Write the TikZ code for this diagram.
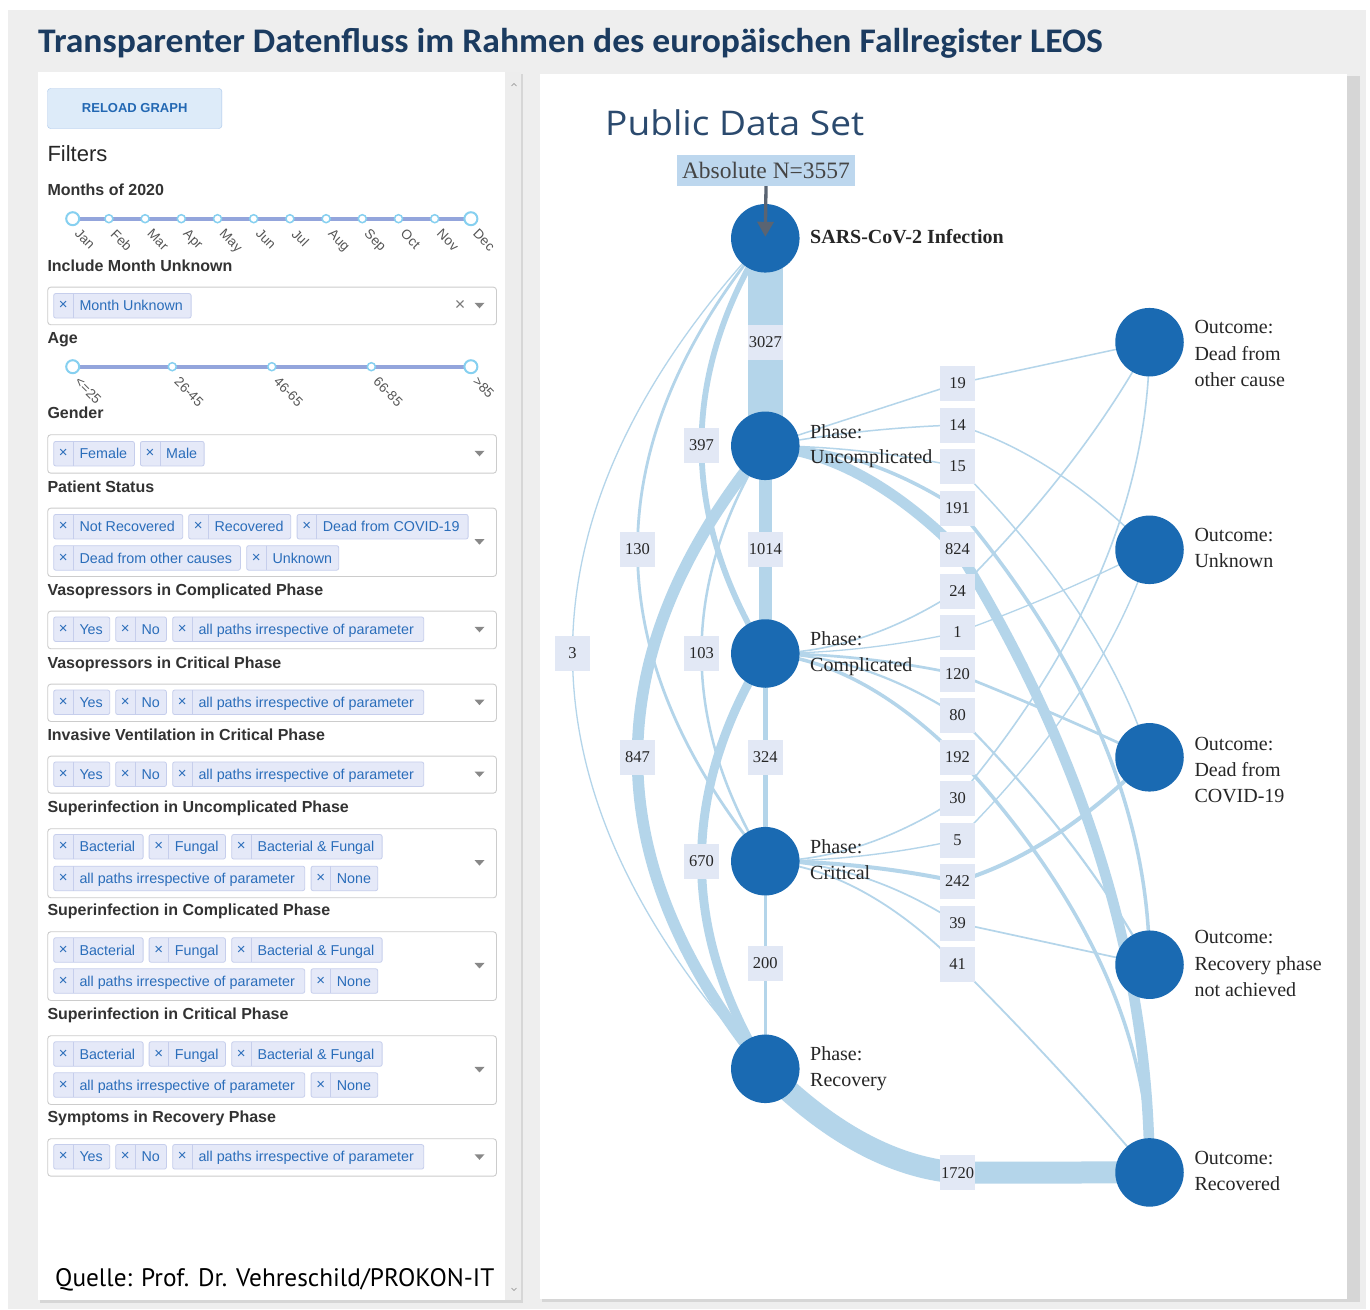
\documentclass[tikz,border=0pt]{standalone}
\usepackage{fontspec}
\setmainfont{Liberation Sans}
\newfontfamily\serifF{Liberation Serif}
\newfontfamily\titleF{Carlito}
\newfontfamily\pubF{Open Sans}
\newfontfamily\quelleF{PT Sans}
\usetikzlibrary{calc,arrows.meta}
\pgfdeclarelayer{bg}
\pgfdeclarelayer{edges}
\pgfsetlayers{bg,edges,main}
\definecolor{cBg}{HTML}{EEEEEE}
\definecolor{cShadow}{HTML}{D6D6D6}
\definecolor{cScroll}{HTML}{EDEDED}
\definecolor{cTitle}{HTML}{1B3B60}
\definecolor{cBtnF}{HTML}{DDEBF9}
\definecolor{cBtnB}{HTML}{A8C6EA}
\definecolor{cBtnT}{HTML}{2368B3}
\definecolor{cLabel}{HTML}{333333}
\definecolor{cBar}{HTML}{93A5DC}
\definecolor{cKnob}{HTML}{86D0F0}
\definecolor{cMonth}{HTML}{555555}
\definecolor{cSelB}{HTML}{CCCCCC}
\definecolor{cTagF}{HTML}{E5E9F8}
\definecolor{cTagB}{HTML}{C6CEEC}
\definecolor{cTagT}{HTML}{2A6DBA}
\definecolor{cDD}{HTML}{888888}
\definecolor{cNode}{HTML}{1A6AB2}
\definecolor{cEdge}{HTML}{B4D5EA}
\definecolor{cELab}{HTML}{E2E8F5}
\definecolor{cNText}{HTML}{262626}
\definecolor{cAbs}{HTML}{BDD7EE}
\definecolor{cAbsT}{HTML}{454545}
\definecolor{cArrow}{HTML}{5A6472}
\definecolor{cPub}{HTML}{2B4A6E}
\tikzset{
  flabel/.style={anchor=base west, inner sep=0, text=cLabel, font=\bfseries\fontsize{16}{16}\selectfont},
  selbox/.style={draw=cSelB, fill=white, rounded corners=3, line width=0.9, inner sep=0},
  tagnode/.style={draw=cTagB, fill=cTagF, rounded corners=2, line width=0.8, inner sep=0, minimum height=24.5},
  tagtxt/.style={anchor=base west, inner sep=0, text=cTagT, font=\fontsize{14.3}{14.3}\selectfont},
  tagx/.style={inner sep=0, text=cTagT, font=\fontsize{15}{15}\selectfont},
  knob/.style={circle, draw=cKnob, fill=white, line width=2, minimum size=13, inner sep=0},
  knobs/.style={circle, draw=cKnob, fill=white, line width=1.5, minimum size=8, inner sep=0},
  mlabel/.style={rotate=-45, anchor=north west, inner sep=0, text=cMonth, font=\fontsize{13.5}{13.5}\selectfont},
  circ/.style={circle, fill=cNode, minimum size=68.5, inner sep=0},
  ntxt/.style={anchor=base west, inner sep=0, text=cNText, font=\serifF\fontsize{20}{20}\selectfont},
  elab/.style={fill=cELab, minimum width=35, minimum height=35, inner sep=0, text=cNText, font=\serifF\fontsize{16.5}{16.5}\selectfont},
  flowline/.style={draw=cEdge},
}
\newcounter{tg}
\newcommand\tagb[4]{\stepcounter{tg}%
  \node[tagnode, minimum width={#2-#1}, anchor=west] (tag\arabic{tg}) at (#1,#3) {};%
  \draw[cTagB, line width=0.8] (#1+20,#3-12.2) -- (#1+20,#3+12.2);%
  \node[tagx] (tagx\arabic{tg}) at (#1+10,#3) {×};%
  \node[tagtxt] (tagt\arabic{tg}) at (#1+26,#3+5.1) {#4};}
\newcommand\selb[3]{%
  \node[selbox, anchor=north west, minimum width=448.7, minimum height={#3-#2}] (#1) at (47.3,#2) {};%
  \fill[cDD] (474.5,{(#2+#3)/2-2.7}) -- (484.5,{(#2+#3)/2-2.7}) -- (479.5,{(#2+#3)/2+2.8}) -- cycle;}
\newcommand\qseg[4]{%
  \draw[flowline, line width=#4] (#1.center) .. controls ($(#1.center)!0.6667!#2$) and ($(#3.center)!0.6667!#2$) .. (#3.center);}
\begin{document}
\begin{tikzpicture}[x=1pt,y=-1pt]
\useasboundingbox (0,0) rectangle (1370,1309);
\begin{pgfonlayer}{bg}
\fill[white] (0,0) rectangle (1370,1309);
\fill[cBg] (8,10) rectangle (1366,1309);
\fill[cShadow] (40,74) rectangle (523,1303);
\fill[white] (38,72) rectangle (521,1300);
\fill[cScroll] (505,72) rectangle (521,1300);
\draw[cDD, line width=0.6] (511.5,86) -- (514,83.5) -- (516.5,86);
\draw[cDD, line width=0.6] (511.5,1288) -- (514,1290.5) -- (516.5,1288);
\fill[cShadow] (542,76) rectangle (1360,1302);
\fill[white] (540,74) rectangle (1347,1299);
\end{pgfonlayer}

% title
\node[anchor=base west, inner sep=0, text=cTitle, xscale=1.032, font=\titleF\bfseries\fontsize{34.5}{34.5}\selectfont] (title) at (38,52) {Transparenter Datenfluss im Rahmen des europäischen Fallregister LEOS};

% left panel
\node[draw=cBtnB, fill=cBtnF, rounded corners=3, minimum width=174.4, minimum height=40, inner sep=0, anchor=north west, text=cBtnT, font=\bfseries\fontsize{13}{13}\selectfont] (btn) at (47.3,88.3) {RELOAD GRAPH};
\node[anchor=base west, inner sep=0, text=black!85, font=\fontsize{22}{22}\selectfont] (filters) at (47.3,161.7) {Filters};

\node[flabel] (lbMonths) at (47.3,195) {Months of 2020};
\coordinate (ms0) at (72.7,218.7);
\coordinate (ms1) at (470.9,218.7);
\draw[cBar, line width=4] (ms0) -- (ms1);
\foreach \i in {1,...,10} {\node[knobs] (mk\i) at ({72.7+36.2*\i},218.7) {};}
\node[knob] (mk0) at (ms0) {};
\node[knob] (mk11) at (ms1) {};
\foreach \i/\m in {0/Jan,1/Feb,2/Mar,3/Apr,4/May,5/Jun,6/Jul,7/Aug,8/Sep,9/Oct,10/Nov,11/Dec} {\node[mlabel] (ml\i) at ({72.7+36.2*\i+8},228) {\m};}

\node[flabel] (lbMU) at (47.3,271.3) {Include Month Unknown};
\selb{sMU}{286.7}{324.3}
\tagb{53.3}{190.7}{305.8}{Month Unknown}
\node[inner sep=0, text=cDD!90!black, font=\fontsize{18}{18}\selectfont] (clearMU) at (460,305.5) {×};

\node[flabel] (lbAge) at (47.3,343) {Age};
\coordinate (as0) at (72.7,366.7);
\coordinate (as1) at (470.9,366.7);
\draw[cBar, line width=4] (as0) -- (as1);
\foreach \i in {1,2,3} {\node[knobs] (ak\i) at ({72.7+99.55*\i},366.7) {};}
\node[knob] (ak0) at (as0) {};
\node[knob] (ak4) at (as1) {};
\foreach \i/\m in {0/<=25,1/26-45,2/46-65,3/66-85,4/>85} {\node[mlabel] (al\i) at ({72.7+99.55*\i+8},376) {\m};}

\node[flabel] (lbGender) at (47.3,418.6) {Gender};
\selb{sGender}{434.3}{472.7}
\tagb{53.3}{134}{453.7}{Female}
\tagb{140}{203.7}{453.7}{Male}

\node[flabel] (lbPS) at (47.3,492) {Patient Status};
\selb{sPS}{507.7}{576}
\tagb{53.3}{182.3}{526.7}{Not Recovered}
\tagb{188.3}{290.3}{526.7}{Recovered}
\tagb{296.7}{467.7}{526.7}{Dead from COVID-19}
\tagb{53.3}{240}{557.9}{Dead from other causes}
\tagb{246.3}{338.3}{557.9}{Unknown}

\node[flabel] (lbVC) at (47.3,595) {Vasopressors in Complicated Phase};
\selb{sVC}{610.7}{648.3}
\tagb{53.3}{109.3}{629.2}{Yes}
\tagb{115.3}{166}{629.2}{No}
\tagb{172.3}{423.3}{629.2}{all paths irrespective of parameter}

\node[flabel] (lbVCr) at (47.3,668) {Vasopressors in Critical Phase};
\selb{sVCr}{683.7}{721}
\tagb{53.3}{109.3}{702.3}{Yes}
\tagb{115.3}{166}{702.3}{No}
\tagb{172.3}{423.3}{702.3}{all paths irrespective of parameter}

\node[flabel] (lbIV) at (47.3,740) {Invasive Ventilation in Critical Phase};
\selb{sIV}{755.7}{792.7}
\tagb{53.3}{109.3}{774.2}{Yes}
\tagb{115.3}{166}{774.2}{No}
\tagb{172.3}{423.3}{774.2}{all paths irrespective of parameter}

\node[flabel] (lbSU) at (47.3,812.6) {Superinfection in Uncomplicated Phase};
\selb{sSU}{828.3}{897.3}
\tagb{53.3}{142.7}{846.8}{Bacterial}
\tagb{148.7}{225}{846.8}{Fungal}
\tagb{231.3}{381.7}{846.8}{Bacterial \& Fungal}
\tagb{53.3}{304.3}{878.4}{all paths irrespective of parameter}
\tagb{310.7}{377.3}{878.4}{None}

\node[flabel] (lbSC) at (47.3,915.6) {Superinfection in Complicated Phase};
\selb{sSC}{931.3}{1000}
\tagb{53.3}{142.7}{950}{Bacterial}
\tagb{148.7}{225}{950}{Fungal}
\tagb{231.3}{381.7}{950}{Bacterial \& Fungal}
\tagb{53.3}{304.3}{981}{all paths irrespective of parameter}
\tagb{310.7}{377.3}{981}{None}

\node[flabel] (lbSCr) at (47.3,1019.6) {Superinfection in Critical Phase};
\selb{sSCr}{1035.3}{1104}
\tagb{53.3}{142.7}{1054}{Bacterial}
\tagb{148.7}{225}{1054}{Fungal}
\tagb{231.3}{381.7}{1054}{Bacterial \& Fungal}
\tagb{53.3}{304.3}{1085}{all paths irrespective of parameter}
\tagb{310.7}{377.3}{1085}{None}

\node[flabel] (lbSR) at (47.3,1122.6) {Symptoms in Recovery Phase};
\selb{sSR}{1138.3}{1175.7}
\tagb{53.3}{109.3}{1156.8}{Yes}
\tagb{115.3}{166}{1156.8}{No}
\tagb{172.3}{423.3}{1156.8}{all paths irrespective of parameter}

\node[anchor=base west, inner sep=0, text=black, font=\quelleF\fontsize{25.3}{25.3}\selectfont] (quelle) at (55,1286) {Quelle: Prof. Dr. Vehreschild/PROKON-IT};

% right panel
\node[anchor=base west, inner sep=0, text=cPub, xscale=1.09, font=\pubF\fontsize{34}{34}\selectfont] (pub) at (605,135) {Public Data Set};
\node[fill=cAbs, minimum width=178, minimum height=31, inner sep=0, text=cAbsT, font=\serifF\fontsize{23.5}{23.5}\selectfont] (abs) at (766,170.5) {Absolute N=3557};

% graph nodes
\node[circ] (S) at (765.3,238.3) {};
\node[circ] (U) at (765.3,445.8) {};
\node[circ] (C) at (765.3,653.5) {};
\node[circ] (Cr) at (765.3,861.2) {};
\node[circ] (R) at (765.3,1068.8) {};
\node[circ] (O1) at (1149.5,342.2) {};
\node[circ] (O2) at (1149.5,549.8) {};
\node[circ] (O3) at (1149.5,757.3) {};
\node[circ] (O4) at (1149.5,964.7) {};
\node[circ] (O5) at (1149.5,1172.4) {};

\draw[-{Triangle[length=15pt,width=16pt]}, line width=3.3, draw=cArrow, fill=cArrow, shorten >=1.5pt] (abs.south) -- (S.center);

\node[ntxt, font=\serifF\bfseries\fontsize{20}{20}\selectfont] (tS) at (810,243.3) {SARS-CoV-2 Infection};
\node[ntxt] (tU1) at (810,438.3) {Phase:};
\node[ntxt] (tU2) at (810,463.8) {Uncomplicated};
\node[ntxt] (tC1) at (810,645.5) {Phase:};
\node[ntxt] (tC2) at (810,671.5) {Complicated};
\node[ntxt] (tCr1) at (810,853) {Phase:};
\node[ntxt] (tCr2) at (810,879) {Critical};
\node[ntxt] (tR1) at (810,1060.8) {Phase:};
\node[ntxt] (tR2) at (810,1086.8) {Recovery};
\node[ntxt] (tO11) at (1194.3,333.3) {Outcome:};
\node[ntxt] (tO12) at (1194.3,360) {Dead from};
\node[ntxt] (tO13) at (1194.3,386) {other cause};
\node[ntxt] (tO21) at (1194.3,541.5) {Outcome:};
\node[ntxt] (tO22) at (1194.3,567.5) {Unknown};
\node[ntxt] (tO31) at (1194.3,750) {Outcome:};
\node[ntxt] (tO32) at (1194.3,776.5) {Dead from};
\node[ntxt] (tO33) at (1194.3,802.7) {COVID-19};
\node[ntxt] (tO41) at (1194.3,943.3) {Outcome:};
\node[ntxt] (tO42) at (1194.3,970) {Recovery phase};
\node[ntxt] (tO43) at (1194.3,996.7) {not achieved};
\node[ntxt] (tO51) at (1194.3,1164.4) {Outcome:};
\node[ntxt] (tO52) at (1194.3,1190.4) {Recovered};

% edge labels
\node[elab] (l3027) at (765.3,342.5) {3027};
\node[elab] (l1014) at (765.3,549.5) {1014};
\node[elab] (l324) at (765.3,757.3) {324};
\node[elab] (l200) at (765.3,963.5) {200};
\node[elab] (l397) at (701.5,445.2) {397};
\node[elab] (l130) at (637.5,549.5) {130};
\node[elab] (l3) at (572.5,653.3) {3};
\node[elab] (l103) at (701.5,653.3) {103};
\node[elab] (l847) at (637.5,757.3) {847};
\node[elab] (l670) at (701.5,861.3) {670};
\node[elab] (l19) at (957.5,383.5) {19};
\node[elab] (l14) at (957.5,425) {14};
\node[elab] (l15) at (957.5,466.5) {15};
\node[elab] (l191) at (957.5,508) {191};
\node[elab] (l824) at (957.5,549.5) {824};
\node[elab] (l24) at (957.5,591) {24};
\node[elab] (l1) at (957.5,632.5) {1};
\node[elab] (l120) at (957.5,674) {120};
\node[elab] (l80) at (957.5,715.5) {80};
\node[elab] (l192) at (957.5,757) {192};
\node[elab] (l30) at (957.5,798.5) {30};
\node[elab] (l5) at (957.5,840) {5};
\node[elab] (l242) at (957.5,881.5) {242};
\node[elab] (l39) at (957.5,923) {39};
\node[elab] (l41) at (957.5,964.5) {41};
\node[elab] (l1720) at (957.5,1172.7) {1720};

\begin{pgfonlayer}{edges}
% column
\draw[flowline, line width=35.5] (S.center) -- (l3027.center) -- (U.center);
\draw[flowline, line width=12.8] (U.center) -- (l1014.center) -- (C.center);
\draw[flowline, line width=5] (C.center) -- (l324.center) -- (Cr.center);
\draw[flowline, line width=3.6] (Cr.center) -- (l200.center) -- (R.center);
% left arcs
\qseg{S}{(701.5,341.5)}{l397}{5.8}   \qseg{l397}{(701.5,549.5)}{C}{5.8}
\qseg{S}{(637.5,393.8)}{l130}{2.8}   \qseg{l130}{(637.5,705.4)}{Cr}{2.8}
\qseg{S}{(572.5,445.6)}{l3}{1.3}     \qseg{l3}{(572.5,861)}{R}{1.3}
\qseg{U}{(701.5,549.5)}{l103}{2.5}   \qseg{l103}{(701.5,757.3)}{Cr}{2.5}
\qseg{U}{(637.5,601.5)}{l847}{11.5}  \qseg{l847}{(637.5,913)}{R}{11.5}
\qseg{C}{(701.5,757.4)}{l670}{8.9}   \qseg{l670}{(701.5,965)}{R}{8.9}
% right: uncomplicated
\qseg{U}{(861,414.75)}{l19}{1.5}     \qseg{l19}{(1053.5,362.9)}{O1}{1.5}
\qseg{U}{(861,428)}{l14}{1.5}        \qseg{l14}{(1053.5,453.8)}{O2}{1.5}
\qseg{U}{(861,446)}{l15}{1.5}        \qseg{l15}{(1102.9,611.9)}{O3}{1.5}
\qseg{U}{(861,446)}{l191}{3.5}       \qseg{l191}{(1149,736.4)}{O4}{3.5}
\qseg{U}{(861,453.5)}{l824}{10.6}    \qseg{l824}{(1149,861)}{O5}{10.6}
% complicated
\qseg{C}{(861,653.5)}{l24}{1.6}      \qseg{l24}{(1081.9,466.6)}{O1}{1.6}
\qseg{C}{(861,653.5)}{l1}{1.3}       \qseg{l1}{(1053.5,598)}{O2}{1.3}
\qseg{C}{(861,653.5)}{l120}{2.7}     \qseg{l120}{(1053.5,712)}{O3}{2.7}
\qseg{C}{(861,653.5)}{l80}{2.2}      \qseg{l80}{(1082.1,840.1)}{O4}{2.2}
\qseg{C}{(861,661)}{l192}{3.5}       \qseg{l192}{(1149,964.7)}{O5}{3.5}
% critical
\qseg{Cr}{(861,861.2)}{l30}{1.6}     \qseg{l30}{(1149,570.4)}{O1}{1.6}
\qseg{Cr}{(861,861.2)}{l5}{1.4}      \qseg{l5}{(1102.6,694.9)}{O2}{1.4}
\qseg{Cr}{(861,861.2)}{l242}{4}      \qseg{l242}{(1053.5,853.3)}{O3}{4}
\qseg{Cr}{(861,861.2)}{l39}{1.7}     \qseg{l39}{(1053.5,943.8)}{O4}{1.7}
\qseg{Cr}{(861,868.5)}{l41}{1.8}     \qseg{l41}{(1061.5,1068.5)}{O5}{1.8}
% recovery
\qseg{R}{(861,1164.8)}{l1720}{22}    \qseg{l1720}{(1053.5,1172.5)}{O5}{22}
\end{pgfonlayer}
\end{tikzpicture}
\end{document}
